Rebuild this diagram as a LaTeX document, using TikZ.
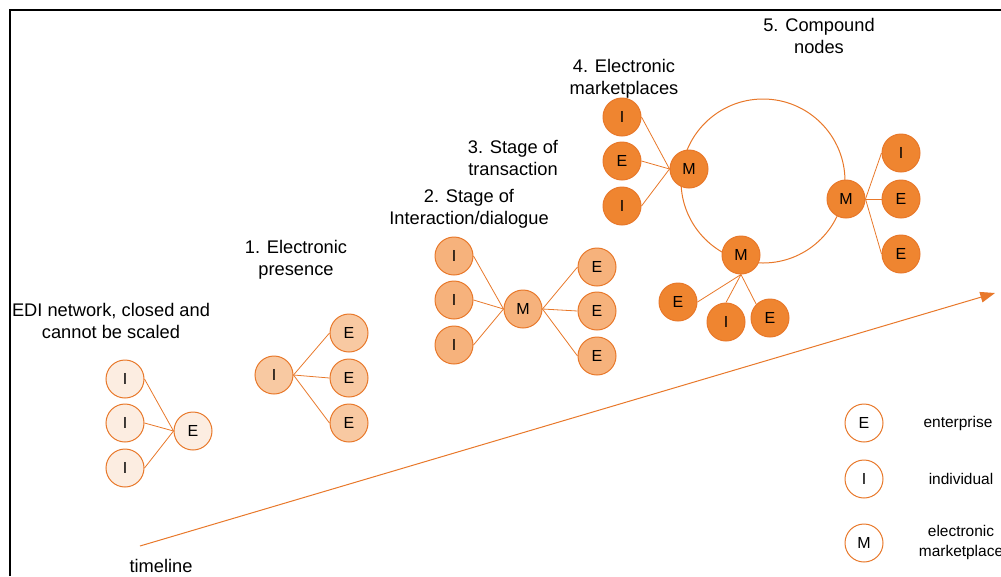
\documentclass[tikz,border=0pt]{standalone}
\usepackage{fontspec}
\setmainfont{Liberation Sans}
\usetikzlibrary{arrows.meta}
\definecolor{edgeor}{HTML}{E8782A}
\definecolor{fillA}{HTML}{FCEDE1}
\definecolor{fillB}{HTML}{F8C9A2}
\definecolor{fillC}{HTML}{F6B27C}
\definecolor{fillD}{HTML}{EF8530}
\tikzset{
  nd/.style={circle, draw=edgeor, line width=0.75pt, minimum size=28.5pt, inner sep=0pt,
    font=\fontsize{12}{14}\selectfont},
  ndA/.style={nd, fill=fillA},
  ndB/.style={nd, fill=fillB},
  ndC/.style={nd, fill=fillC},
  ndD/.style={nd, fill=fillD},
  ndL/.style={nd, fill=white},
  link/.style={draw=edgeor, line width=0.6pt},
  lbl/.style={align=center, inner sep=0pt, font=\fontsize{13.7}{16.5}\selectfont},
  leg/.style={align=center, inner sep=0pt, font=\fontsize{11.6}{15}\selectfont},
}
\begin{document}
\begin{tikzpicture}[x=0.75pt,y=-0.75pt]
\useasboundingbox (0,0) rectangle (1001,576);
% frame
\draw[line width=0.8pt] (10,576) -- (10,10) -- (1001,10);

% timeline
\coordinate (t0) at (140,546);
\coordinate (t1) at (995,293);
\draw[edgeor, line width=0.75pt, -{Triangle[length=11pt,width=8pt]}] (t0) -- (t1);
\node[lbl] (tl) at (161,566) {timeline};

% labels
\node[lbl] (l0) at (111,321) {EDI network, closed and\\cannot be scaled};
\node[lbl] (l1) at (296,260) {1. Electronic\\presence};
\node[lbl] (l2) at (469,209) {2. Stage of\\Interaction/dialogue};
\node[lbl] (l3) at (513,158) {3. Stage of\\transaction};
\node[lbl] (l4) at (624,79) {4. Electronic\\marketplaces};
\node[lbl] (l5) at (819,36) {5. Compound\\nodes};

% group 0
\node[ndA] (a1) at (125,379) {I};
\node[ndA] (a2) at (125,423) {I};
\node[ndA] (a3) at (125,468) {I};
\node[ndA] (aE) at (193,431) {E};
\foreach \n in {a1,a2,a3} \draw[link] (\n.east) -- (aE.west);

% group 1
\node[ndB] (bI) at (274,375) {I};
\node[ndB] (b1) at (349,333) {E};
\node[ndB] (b2) at (349,378) {E};
\node[ndB] (b3) at (349,423) {E};
\foreach \n in {b1,b2,b3} \draw[link] (bI.east) -- (\n.west);

% group 2
\node[ndC] (c1) at (454,256) {I};
\node[ndC] (c2) at (454,300) {I};
\node[ndC] (c3) at (454,345) {I};
\node[ndC] (cM) at (523,309) {M};
\node[ndC] (c4) at (597,267) {E};
\node[ndC] (c5) at (597,311) {E};
\node[ndC] (c6) at (597,356) {E};
\foreach \n in {c1,c2,c3} \draw[link] (\n.east) -- (cM.west);
\foreach \n in {c4,c5,c6} \draw[link] (cM.east) -- (\n.west);

% big ring
\node[circle, draw=edgeor, line width=0.75pt, minimum size=123pt, inner sep=0pt] (ring) at (763,181) {};

% group 4
\node[ndD] (d1) at (622,117) {I};
\node[ndD] (d2) at (622,161) {E};
\node[ndD] (d3) at (622,206) {I};
\node[ndD] (dM) at (689,169) {M};
\foreach \n in {d1,d2,d3} \draw[link] (\n.east) -- (dM.west);

% right M
\node[ndD] (eM) at (846,199) {M};
\node[ndD] (e1) at (901,153) {I};
\node[ndD] (e2) at (901,199) {E};
\node[ndD] (e3) at (901,254) {E};
\foreach \n in {e1,e2,e3} \draw[link] (eM.east) -- (\n.west);

% bottom M
\node[ndD] (fM) at (741,255) {M};
\node[ndD] (f1) at (678,302) {E};
\node[ndD] (f2) at (726,322) {I};
\node[ndD] (f3) at (770,318) {E};
\draw[link] (fM.south) -- (f1.east);
\draw[link] (fM.south) -- (f2.north);
\draw[link] (fM.south) -- (f3.north west);

% legend
\node[ndL] (gE) at (864,423) {E};
\node[ndL] (gI) at (864,479) {I};
\node[ndL] (gM) at (864,543) {M};
\node[leg] (tE) at (958,423) {enterprise};
\node[leg] (tI) at (961,479) {individual};
\node[leg] (tM) at (961,542) {electronic\\marketplace};
\end{tikzpicture}
\end{document}
